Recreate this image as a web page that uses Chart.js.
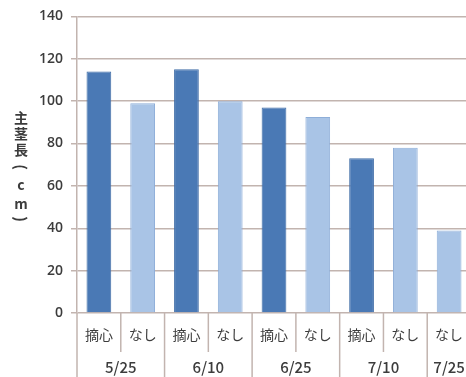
<!DOCTYPE html>
<html>
<head>
<meta charset="utf-8">
<script src="https://cdn.jsdelivr.net/npm/chart.js@4"></script>
<style>
  html, body { margin: 0; padding: 0; background: #fff; overflow: hidden; }
  .wrap { position: relative; width: 471px; height: 377px; }
</style>
</head>
<body>
<div class="wrap"><canvas id="stemChart" width="471" height="377"></canvas></div>
<script>
// Main stem length per survey date, pinched (摘心) vs. not pinched (なし)
const dates = ['5/25', '6/10', '6/25', '7/10', '7/25'];
const treatments = ['摘心', 'なし', '摘心', 'なし', '摘心', 'なし', '摘心', 'なし', 'なし'];
const dateIndex = [0, 0, 1, 1, 2, 2, 3, 3, 4];
const stemLength = [114, 99, 115, 100, 97, 92.5, 73, 78, 39];
const yTicks = [0, 20, 40, 60, 80, 100, 120, 140];
const yTitle = ['主', '茎', '長', '(', 'c', 'm', ')'];

const gridColor = '#c2b4af';
const textColor = '#3c3c3c';
const jpFont = "'Noto Sans CJK JP', 'Open Sans', sans-serif";

const barFill = treatments.map(t => t === '摘心' ? '#4a79b5' : '#a9c4e6');
const barEdge = treatments.map(t => t === '摘心' ? '#3f6ca6' : '#8eaed8');

// Two-row category axis plus the stacked vertical axis title
const axisLabels = {
  id: 'axisLabels',
  afterDraw(chart) {
    const { ctx, chartArea, scales } = chart;
    const x = scales.x;
    const slot = (chartArea.right - chartArea.left) / treatments.length;
    const h = chart.height;
    ctx.save();

    // separators between bars and between date groups
    ctx.strokeStyle = gridColor;
    ctx.lineWidth = 1.5;
    for (let i = 0; i <= treatments.length; i++) {
      const px = chartArea.left + i * slot;
      const groupEdge = i === 0 || i === treatments.length || dateIndex[i] !== dateIndex[i - 1];
      ctx.beginPath();
      ctx.moveTo(px, chartArea.bottom);
      ctx.lineTo(px, groupEdge ? h : chartArea.bottom + 39);
      ctx.stroke();
    }

    ctx.fillStyle = textColor;
    ctx.textAlign = 'center';
    ctx.textBaseline = 'middle';
    ctx.font = '14px ' + jpFont;
    treatments.forEach((t, i) => {
      ctx.fillText(t, x.getPixelForValue(i), chartArea.bottom + 22);
    });

    ctx.font = '500 15px ' + jpFont;
    dates.forEach((d, g) => {
      const idx = dateIndex.map((v, i) => v === g ? i : -1).filter(i => i >= 0);
      const cx = (x.getPixelForValue(idx[0]) + x.getPixelForValue(idx[idx.length - 1])) / 2;
      ctx.fillText(d, cx, chartArea.bottom + 54);
    });

    // vertical title, one glyph per line; brackets turned to lie across the column
    const titleY = [118, 134, 150, 167, 185, 204, 219];
    yTitle.forEach((c, i) => {
      if (c === '(' || c === ')') {
        ctx.save();
        ctx.font = 'bold 15px ' + jpFont;
        ctx.translate(21, titleY[i]);
        ctx.rotate(Math.PI / 2);
        ctx.fillText(c, 0, 0);
        ctx.restore();
      } else {
        ctx.font = 'bold 14px ' + jpFont;
        ctx.fillText(c, 21, titleY[i]);
      }
    });
    ctx.restore();
  }
};

const ctx = document.getElementById('stemChart').getContext('2d');
const stemChart = new Chart(ctx, {
  type: 'bar',
  data: {
    labels: treatments,
    datasets: [{
      data: stemLength,
      backgroundColor: barFill,
      borderColor: barEdge,
      borderWidth: 1,
      barPercentage: 0.565,
      categoryPercentage: 1
    }]
  },
  options: {
    responsive: false,
    animation: false,
    layout: { padding: { top: 14, left: 0, right: 0, bottom: 0 } },
    plugins: {
      legend: { display: false },
      tooltip: { enabled: false }
    },
    scales: {
      x: {
        ticks: { display: false },
        grid: { display: false },
        border: { display: false },
        afterFit(s) { s.height = 64; }
      },
      y: {
        min: 0,
        max: 140,
        afterBuildTicks(s) { s.ticks = yTicks.map(v => ({ value: v })); },
        afterFit(s) { s.width = 77; },
        ticks: {
          color: textColor,
          padding: 8,
          font: { family: "'Open Sans', sans-serif", size: 14, weight: '600' }
        },
        grid: {
          color: gridColor,
          lineWidth: 1.5,
          tickLength: 6,
          tickColor: gridColor
        },
        border: { color: gridColor, width: 1.5 }
      }
    }
  },
  plugins: [axisLabels]
});
</script>
</body>
</html>
